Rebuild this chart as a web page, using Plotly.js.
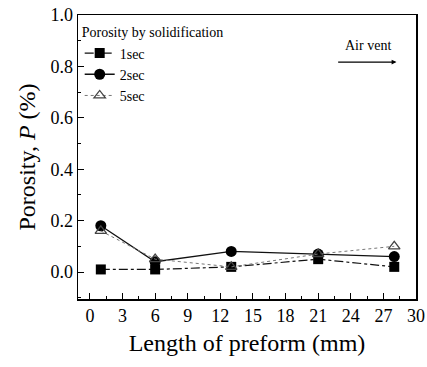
<!DOCTYPE html>
<html><head><meta charset="utf-8">
<script src="https://cdn.plot.ly/plotly-3.0.1.min.js"></script>
<style>html,body{margin:0;padding:0;background:#fff}#c{width:427px;height:367px}</style>
</head><body><div id="c"></div>
<script>
const lengths = [1, 6, 13, 21, 28];
const p1sec = [0.01, 0.01, 0.02, 0.05, 0.02];
const p2sec = [0.18, 0.04, 0.08, 0.07, 0.06];
const p5sec = [0.16, 0.05, 0.02, 0.07, 0.10];
const seriesNames = ['1sec', '2sec', '5sec'];
const xTicks = [0, 3, 6, 9, 12, 15, 18, 21, 24, 27, 30];
const yTicks = [0.0, 0.2, 0.4, 0.6, 0.8, 1.0];

const font = 'Liberation Serif';
const traces = [
  {x: lengths, y: p1sec, name: seriesNames[0], mode: 'lines+markers',
   line: {color: '#111', width: 1.2, dash: 'dashdot'},
   marker: {symbol: 'square', size: 10, color: '#000'}},
  {x: lengths, y: p2sec, name: seriesNames[1], mode: 'lines+markers',
   line: {color: '#111', width: 1.3},
   marker: {symbol: 'circle', size: 11, color: '#000'}},
  {x: lengths, y: p5sec, name: seriesNames[2], mode: 'lines+markers',
   line: {color: '#777', width: 1, dash: 'dot'},
   marker: {symbol: 'triangle-up-open', size: 10, color: '#444', line: {width: 1.3}}}
];
const layout = {
  width: 427, height: 367,
  margin: {l: 78, r: 11, t: 15, b: 68},
  paper_bgcolor: '#fff', plot_bgcolor: '#fff',
  font: {family: font, color: '#000'},
  showlegend: true,
  legend: {x: 0.005, y: 0.985, xanchor: 'left', yanchor: 'top', bgcolor: 'rgba(0,0,0,0)',
    font: {size: 14, family: font}, itemwidth: 30, tracegroupgap: 0,
    title: {text: 'Porosity by solidification', font: {size: 14, family: font}}},
  xaxis: {range: [-1.1, 30], tickvals: xTicks, ticktext: xTicks.map(String),
    ticks: 'inside', ticklen: 6, tickwidth: 1, tickcolor: '#000',
    minor: {dtick: 1.5, tick0: 0, ticks: 'inside', ticklen: 3, tickcolor: '#000', showgrid: false},
    showline: true, linecolor: '#000', linewidth: 1.5, mirror: true,
    showgrid: false, zeroline: false,
    tickfont: {size: 18, family: font},
    title: {text: 'Length of preform (mm)', font: {size: 24, family: font}, standoff: 9}},
  yaxis: {range: [-0.105, 1.0], tickvals: yTicks, ticktext: yTicks.map(v => v.toFixed(1)),
    ticks: 'inside', ticklen: 6, tickwidth: 1, tickcolor: '#000',
    minor: {dtick: 0.1, tick0: 0, ticks: 'inside', ticklen: 3, tickcolor: '#000', showgrid: false},
    showline: true, linecolor: '#000', linewidth: 1.5, mirror: true,
    showgrid: false, zeroline: false,
    tickfont: {size: 18, family: font},
    title: {text: 'Porosity, <i>P</i> (%)', font: {size: 24, family: font}, standoff: 8}},
  annotations: [
    {xref: 'x', yref: 'y', x: 28.2, y: 0.817, ax: 22.7, ay: 0.817, axref: 'x', ayref: 'y',
     showarrow: true, arrowhead: 2, arrowsize: 0.8, arrowwidth: 1.2, arrowcolor: '#000', text: ''},
    {xref: 'x', yref: 'y', x: 25.6, y: 0.845, yanchor: 'bottom', text: 'Air vent', showarrow: false,
     font: {size: 14, family: font}}
  ]
};
Plotly.newPlot('c', traces, layout, {displayModeBar: false, staticPlot: true});
</script></body></html>
